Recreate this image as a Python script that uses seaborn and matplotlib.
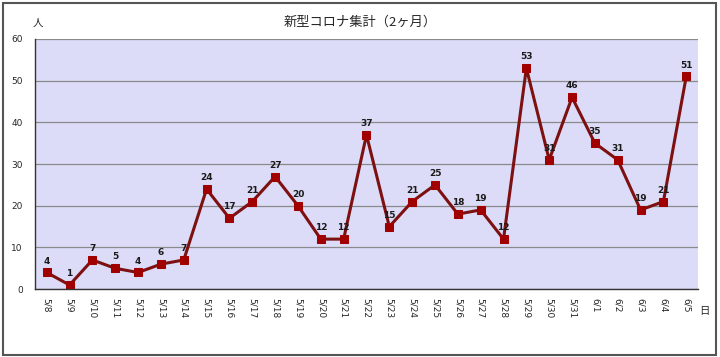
import pandas as pd
import matplotlib.pyplot as plt
import seaborn as sns
from matplotlib.patches import Rectangle

sns.set_style("white")
plt.rcParams['font.family'] = ['DejaVu Sans', 'Noto Sans CJK JP']

dates = ["5/8", "5/9", "5/10", "5/11", "5/12", "5/13", "5/14", "5/15", "5/16", "5/17",
         "5/18", "5/19", "5/20", "5/21", "5/22", "5/23", "5/24", "5/25", "5/26", "5/27",
         "5/28", "5/29", "5/30", "5/31", "6/1", "6/2", "6/3", "6/4", "6/5"]
cases = [4, 1, 7, 5, 4, 6, 7, 24, 17, 21, 27, 20, 12, 12, 37, 15, 21, 25, 18, 19,
         12, 53, 31, 46, 35, 31, 19, 21, 51]

df = pd.DataFrame({"date": dates, "cases": cases})

fig = plt.figure(figsize=(7.2, 3.57), dpi=100)
ax = fig.add_axes([0.049, 0.19, 0.92, 0.701])
ax.set_facecolor("#dcdcf8")

sns.lineplot(data=df, x="date", y="cases", ax=ax, color="#7d1010", linewidth=2.2,
             marker="s", markersize=6, markerfacecolor="#a00000", markeredgecolor="#a00000",
             sort=False)

for i, v in enumerate(cases):
    ax.annotate(str(v), (i, v), xytext=(0, 5), textcoords="offset points",
                ha="center", va="bottom", fontsize=6.5, fontweight="bold", color="#1a1a1a")

ax.set_xlim(-0.5, len(dates) - 0.5)
ax.set_ylim(0, 60)
ax.set_yticks(range(0, 61, 10))
ax.yaxis.grid(True, color="#8a8a8a", linewidth=0.9)
ax.set_axisbelow(True)
ax.set_xticks(range(len(dates)))
ax.set_xticklabels(dates, rotation=270, fontsize=6.5)
ax.set_xticks([i + 0.5 for i in range(-1, len(dates))], minor=True)
ax.tick_params(axis="x", which="major", length=0, pad=6)
ax.tick_params(axis="x", which="minor", length=3, color="#333333", direction="out")
ax.tick_params(axis="y", labelsize=6.5, length=0, pad=9)
ax.set_xlabel("")
ax.set_ylabel("")

for s in ["top", "right"]:
    ax.spines[s].set_visible(False)
for s in ["left", "bottom"]:
    ax.spines[s].set_color("#333333")
    ax.spines[s].set_linewidth(1)

jp = ['Noto Sans CJK JP', 'DejaVu Sans']
fig.text(0.5, 0.937, "新型コロナ集計（2ヶ月）", ha="center", va="center", fontsize=9.5, family=jp)
fig.text(0.052, 0.937, "人", ha="center", va="center", fontsize=7.5, family=jp)
fig.text(0.978, 0.13, "日", ha="center", va="center", fontsize=7.5, family=jp)

fig.patches.append(Rectangle((0.004, 0.006), 0.99, 0.985, transform=fig.transFigure,
                             fill=False, edgecolor="#555555", linewidth=1.5))

fig.savefig("out.png", dpi=100)
